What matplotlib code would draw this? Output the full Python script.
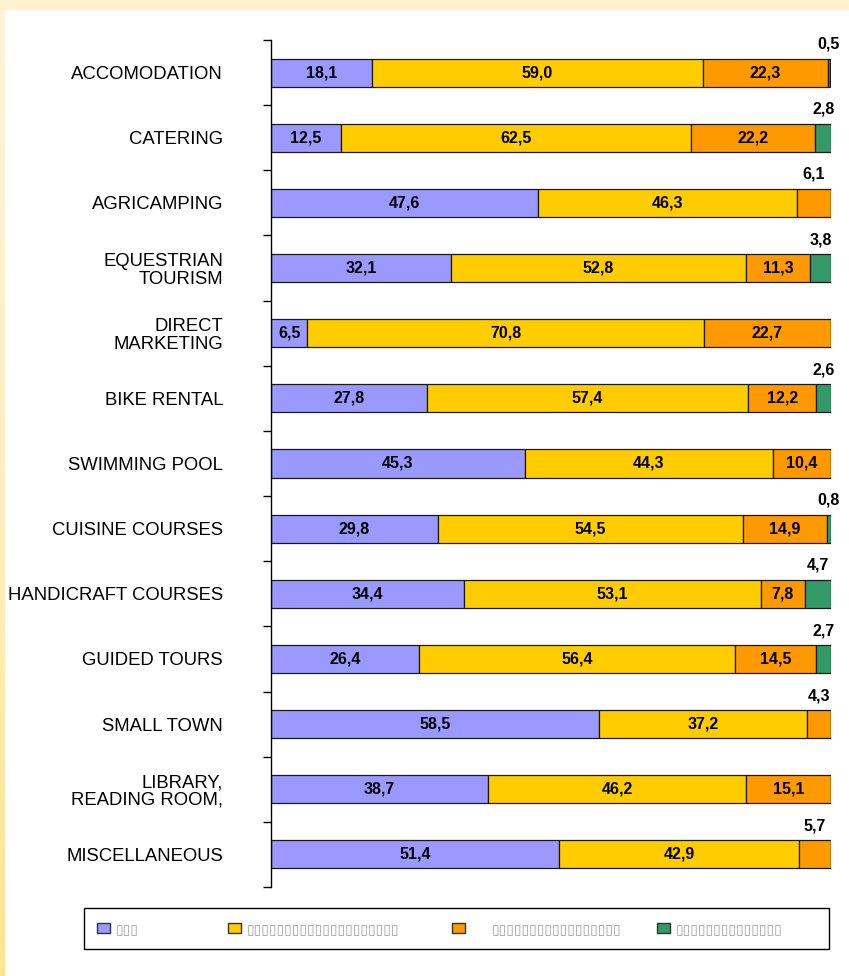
import matplotlib
matplotlib.use("Agg")
import matplotlib.pyplot as plt
from matplotlib.patches import Rectangle, Patch
from matplotlib.colors import LinearSegmentedColormap
import numpy as np

plt.rcParams['font.family'] = ['Liberation Sans', 'DejaVu Sans']

categories = ["ACCOMODATION", "CATERING", "AGRICAMPING", "EQUESTRIAN\nTOURISM",
              "DIRECT\nMARKETING", "BIKE RENTAL", "SWIMMING POOL", "CUISINE COURSES",
              "HANDICRAFT COURSES", "GUIDED TOURS", "SMALL TOWN",
              "LIBRARY,\nREADING ROOM,", "MISCELLANEOUS"]
s1 = [18.1, 12.5, 47.6, 32.1, 6.5, 27.8, 45.3, 29.8, 34.4, 26.4, 58.5, 38.7, 51.4]
s2 = [59.0, 62.5, 46.3, 52.8, 70.8, 57.4, 44.3, 54.5, 53.1, 56.4, 37.2, 46.2, 42.9]
s3 = [22.3, 22.2, 6.1, 11.3, 22.7, 12.2, 10.4, 14.9, 7.8, 14.5, 4.3, 15.1, 5.7]
s4 = [0.5, 2.8, 0.0, 3.8, 0.0, 2.6, 0.0, 0.8, 4.7, 2.7, 0.0, 0.0, 0.0]
series_labels = ["\u25af" * 3, "\u25af" * 20, "\u25af" * 17, "\u25af" * 14]
colors = ["#9999FF", "#FFCC00", "#FF9900", "#339966"]

W, H = 849, 976
fig = plt.figure(figsize=(W / 100, H / 100), dpi=100, facecolor="white")

# frame background
fig.patches.append(Rectangle((0, 1 - 10 / H), 1, 10 / H, transform=fig.transFigure,
                             facecolor="#FFF2CC", edgecolor="none", zorder=-10))
bg = fig.add_axes([0, 0, 5 / W, 1 - 10 / H], zorder=-5)
cmap = LinearSegmentedColormap.from_list("strip", ["#FFF4D8", "#FFEFC0", "#FFE490"])
bg.imshow(np.linspace(0, 1, 256).reshape(-1, 1), aspect="auto", cmap=cmap,
          extent=(0, 1, 1, 0))
bg.set_axis_off()

ax = fig.add_axes([271 / W, 1 - 887 / H, (831 - 271) / W, (887 - 40) / H])
ax.set_facecolor("none")

y = np.arange(len(categories))
series = [s1, s2, s3, s4]
bh = 0.43
left = np.zeros(len(categories))
for k, (vals, col) in enumerate(zip(series, colors)):
    vals = np.array(vals)
    ax.barh(y, vals, left=left, height=bh, color=col, edgecolor="#1a1a1a",
            linewidth=0.9, label=series_labels[k])
    left = left + vals

# value labels
for i in range(len(categories)):
    vals = [s[i] for s in series]
    nz = [k for k, v in enumerate(vals) if v > 0]
    last = nz[-1]
    start = 0.0
    for k, v in enumerate(vals):
        if v <= 0:
            start += v
            continue
        txt = f"{v:.1f}".replace(".", ",")
        cx = start + v / 2
        if k == last and v < 7 and k > 0:
            ax.annotate(txt, xy=(cx, i - bh / 2), xytext=(0, 5),
                        textcoords="offset points", ha="center", va="bottom",
                        fontsize=11.5, fontweight="bold", color="black")
        else:
            ax.text(cx, i, txt, ha="center", va="center", fontsize=11.5,
                    fontweight="bold", color="black")
        start += v

ax.set_xlim(0, 100)
ax.set_ylim(len(categories) - 0.5, -0.5)
ax.set_yticks(y)
ax.set_yticklabels(categories, fontsize=13.3, multialignment="right",
                   linespacing=1.05)
ax.tick_params(axis="y", which="major", length=0, pad=34.5)
ax.set_yticks(np.arange(-0.5, len(categories)), minor=True)
ax.tick_params(axis="y", which="minor", length=6, width=1, direction="out")
ax.set_xticks([])
for s in ["top", "right", "bottom"]:
    ax.spines[s].set_visible(False)
ax.spines["left"].set_linewidth(1)

# legend: frame + entries
fig.patches.append(Rectangle((84 / W, 1 - 949 / H), 745 / W, 41 / H,
                             transform=fig.transFigure, facecolor="white",
                             edgecolor="black", linewidth=1, zorder=1))
marker_x = [97, 228, 452, 657]
text_pad = [0.45, 0.45, 1.95, 0.45]
for k in range(4):
    h = Patch(facecolor=colors[k], edgecolor="#333333", linewidth=1)
    lg = fig.legend([h], [series_labels[k]], loc="center left",
                    bbox_to_anchor=(marker_x[k] / W, 1 - 929 / H),
                    frameon=False, borderaxespad=0, borderpad=0,
                    handlelength=0.93, handleheight=0.65,
                    handletextpad=text_pad[k], fontsize=10)
    lg.set_zorder(2)
    for t in lg.get_texts():
        t.set_color("#A0A0A0")

fig.savefig("out.png", dpi=100, facecolor=fig.get_facecolor())
